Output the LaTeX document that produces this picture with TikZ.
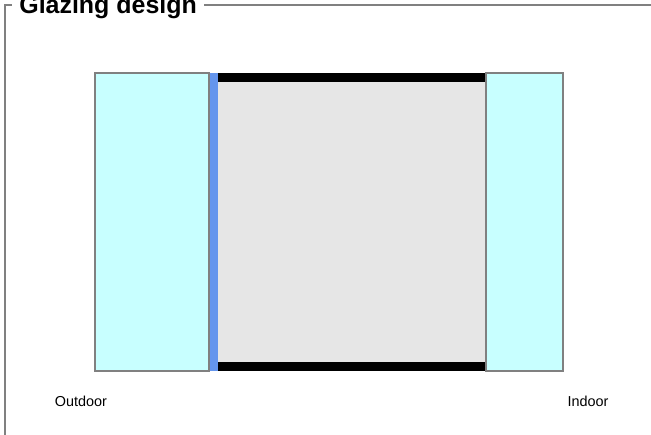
\documentclass[tikz,border=0pt]{standalone}
\usepackage{fontspec}
\setmainfont{Liberation Sans}
\usetikzlibrary{positioning}

\definecolor{airfill}{RGB}{200,255,255}
\definecolor{coatblue}{RGB}{100,149,237}
\definecolor{gapgray}{RGB}{230,230,230}
\definecolor{edgegray}{RGB}{128,128,128}

\begin{document}
\begin{tikzpicture}[
  every node/.style={font=\fontsize{8.2}{10}\selectfont},
  pane/.style={draw=edgegray, line width=0.6pt, anchor=south west,
    inner sep=0pt, outer sep=0pt},
  layer/.style={anchor=south west, inner sep=0pt, outer sep=0pt},
  frameline/.style={draw=edgegray, line width=0.6pt},
]
\useasboundingbox (0,0) rectangle (13.02,8.7);

%% ---- Frame and title ----
\node[anchor=base west, inner xsep=0.14cm, inner ysep=0pt,
  font=\fontsize{14.2}{16}\selectfont\bfseries] (title) at (0.24,8.42)
  {Glazing design};
\coordinate (frameTop) at (0.1,8.6);
\coordinate (frameBot) at (0.1,0);
\coordinate (frameEnd) at (13.02,8.6);
\draw[frameline] (frameBot) -- (frameTop) -- (frameTop -| title.west);
\draw[frameline] (frameTop -| title.east) -- (frameEnd);

%% ---- Gap between panes ----
\node[layer, fill=gapgray, minimum width=5.36cm, minimum height=5.96cm]
  (gap) at (4.36,1.28) {};
\node[layer, fill=black, minimum width=5.36cm, minimum height=0.18cm]
  (sealTop) at (4.36,7.06) {};
\node[layer, fill=black, minimum width=5.36cm, minimum height=0.18cm]
  (sealBot) at (4.36,1.28) {};

%% ---- Coating ----
\node[layer, fill=coatblue, minimum width=0.18cm, minimum height=5.96cm]
  (coating) at (4.18,1.28) {};

%% ---- Panes ----
\node[pane, fill=airfill, minimum width=2.28cm, minimum height=5.96cm]
  (outpane) at (1.90,1.28) {};
\node[pane, fill=airfill, minimum width=1.54cm, minimum height=5.96cm]
  (inpane) at (9.72,1.28) {};

%% ---- Sides ----
\node (outdoor) at (1.62,0.68) {Outdoor};
\node (indoor) at (11.76,0.68) {Indoor};

\end{tikzpicture}
\end{document}
